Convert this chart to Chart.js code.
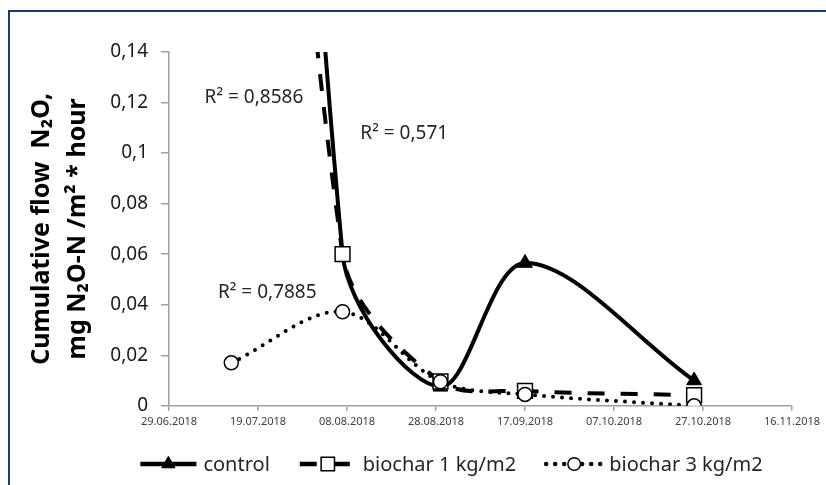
<!DOCTYPE html>
<html>
<head>
<meta charset="utf-8">
<script src="https://cdn.jsdelivr.net/npm/chart.js@4.4.1/dist/chart.umd.min.js"></script>
<style>
  html, body { margin: 0; padding: 0; background: #fff; }
  #wrap { position: relative; width: 826px; height: 485px; overflow: hidden; }
  #frame { position: absolute; left: 8px; top: 10px; width: 900px; height: 600px;
           border-top: 2px solid #1f3b6b; border-left: 2px solid #1f3b6b; }
  canvas { position: absolute; left: 0; top: 0; }
</style>
</head>
<body>
<div id="wrap">
  <div id="frame"></div>
  <canvas id="myChart" width="826" height="485"></canvas>
</div>
<script>
// sampling dates (first control / biochar 1 values lie far above the axis and are clipped)
const dates = ['13.07.2018', '07.08.2018', '29.08.2018', '17.09.2018', '25.10.2018'];
const control = [0.9, 0.06, 0.0075, 0.0565, 0.0100];
const biochar1 = [0.6, 0.06, 0.0096, 0.0059, 0.0042];
const biochar3 = [0.017, 0.0372, 0.0095, 0.0045, 0];

const xFrom = '29.06.2018';
const xTo = '16.11.2018';
const xStepDays = 20;
const yMax = 0.14;
const yStep = 0.02;

// trendline R² labels, anchored in data space (date, value at text baseline)
const r2Labels = [
    { text: 'R² = 0,8586', date: '07.07.2018', value: 0.1198 },
    { text: 'R² = 0,571', date: '11.08.2018', value: 0.1057 },
    { text: 'R² = 0,7885', date: '10.07.2018', value: 0.0427 },
];

const FONT = '"Noto Sans", "Open Sans", sans-serif';
const DAY = 86400000;

function toTime(s) {
    const [d, m, y] = s.split('.').map(Number);
    return Date.UTC(y, m - 1, d);
}
function fmtDate(v) {
    const t = new Date(v);
    const p = (n) => String(n).padStart(2, '0');
    return p(t.getUTCDate()) + '.' + p(t.getUTCMonth() + 1) + '.' + t.getUTCFullYear();
}
const points = (vals) => vals.map((v, i) => ({ x: toTime(dates[i]), y: v }));

const r2Plugin = {
    id: 'r2Labels',
    afterDatasetsDraw(chart) {
        const { ctx, scales: { x, y } } = chart;
        ctx.save();
        ctx.font = '19px ' + FONT;
        ctx.fillStyle = '#262626';
        ctx.textBaseline = 'alphabetic';
        r2Labels.forEach(l => {
            ctx.fillText(l.text, x.getPixelForValue(toTime(l.date)), y.getPixelForValue(l.value));
        });
        ctx.restore();
    }
};

// legend with line sample + marker, like the spreadsheet legend
const lineLegend = {
    id: 'lineLegend',
    afterDraw(chart) {
        const { ctx, chartArea } = chart;
        const sampleW = 56, gap = 7, spacing = 30;
        ctx.save();
        ctx.font = '20px ' + FONT;
        const items = chart.data.datasets.map(ds => ({ ds, w: sampleW + gap + ctx.measureText(ds.label).width }));
        const total = items.reduce((s, it) => s + it.w, 0) + spacing * (items.length - 1);
        let x0 = (chartArea.left + chartArea.right) / 2 - 29 - total / 2;
        const yLine = chart.height - 21;
        items.forEach(({ ds, w }) => {
            ctx.strokeStyle = ds.borderColor;
            ctx.lineWidth = ds.borderWidth + 0.5;
            ctx.setLineDash(ds.borderDash || []);
            ctx.lineCap = ds.borderCapStyle || 'butt';
            ctx.beginPath();
            ctx.moveTo(x0, yLine);
            ctx.lineTo(x0 + sampleW, yLine);
            ctx.stroke();
            ctx.setLineDash([]);
            ctx.lineCap = 'butt';
            ctx.fillStyle = ds.pointBackgroundColor;
            ctx.strokeStyle = ds.pointBorderColor;
            ctx.lineWidth = ds.pointBorderWidth;
            Chart.helpers.drawPoint(ctx, {
                pointStyle: ds.pointStyle, radius: ds.pointRadius * 0.9, rotation: 0, borderWidth: ds.pointBorderWidth
            }, x0 + sampleW / 2, yLine);
            ctx.fillStyle = '#262626';
            ctx.textBaseline = 'alphabetic';
            ctx.fillText(ds.label, x0 + sampleW + gap, yLine + 7);
            x0 += w + spacing;
        });
        ctx.restore();
    }
};

const data = {
    datasets: [{
        label: 'control',
        data: points(control),
        borderColor: '#000',
        borderWidth: 4,
        tension: 0.33,
        pointStyle: 'triangle',
        pointRadius: 8.5,
        pointBackgroundColor: '#000',
        pointBorderColor: '#000',
        pointBorderWidth: 1,
        order: 3,
    }, {
        label: 'biochar 1 kg/m2',
        data: points(biochar1),
        borderColor: '#000',
        borderWidth: 4,
        borderDash: [17, 16],
        tension: 0.33,
        pointStyle: 'rect',
        pointRadius: 10.5,
        pointBackgroundColor: '#fff',
        pointBorderColor: '#000',
        pointBorderWidth: 1.5,
        order: 2,
    }, {
        label: 'biochar 3 kg/m2',
        data: points(biochar3),
        borderColor: '#000',
        borderWidth: 4,
        borderDash: [0, 9],
        borderCapStyle: 'round',
        tension: 0.33,
        pointStyle: 'circle',
        pointRadius: 7,
        pointBackgroundColor: '#fff',
        pointBorderColor: '#000',
        pointBorderWidth: 1.5,
        order: 1,
    }]
};

const axisGrey = '#a0a0a0';

const config = {
    type: 'line',
    data: data,
    options: {
        responsive: false,
        animation: false,
        devicePixelRatio: 1,
        layout: { padding: { left: 0, right: 34, top: 52, bottom: 53 } },
        plugins: {
            legend: { display: false },
            tooltip: { enabled: false },
        },
        scales: {
            x: {
                type: 'linear',
                min: toTime(xFrom),
                max: toTime(xTo),
                grid: { drawOnChartArea: false, tickLength: 5, color: axisGrey, lineWidth: 1.5 },
                border: { display: true, color: axisGrey, width: 1.5 },
                ticks: {
                    stepSize: xStepDays * DAY,
                    maxRotation: 0,
                    autoSkip: false,
                    padding: 4,
                    color: '#404040',
                    font: { family: FONT, size: 11 },
                    callback: (v) => fmtDate(v),
                },
            },
            y: {
                min: 0,
                max: yMax,
                afterFit: (scale) => { scale.width = 169; },
                grid: { drawOnChartArea: false, tickLength: 8, color: axisGrey, lineWidth: 1.5 },
                border: { display: true, color: axisGrey, width: 1.5 },
                ticks: {
                    stepSize: yStep,
                    padding: 13,
                    color: '#1a1a1a',
                    font: { family: FONT, size: 19 },
                    callback: (v) => v === 0 ? '0' : String(Math.round(v * 100) / 100).replace('.', ','),
                },
                title: {
                    display: true,
                    text: ['Cumulative flow  N₂O,', 'mg N₂O-N /m² * hour'],
                    color: '#000',
                    font: { family: FONT, size: 25, weight: 'bold', lineHeight: 1.47 },
                    padding: { top: 23, bottom: 0 },
                },
            },
        },
    },
    plugins: [r2Plugin, lineLegend],
};

const myChart = new Chart(document.getElementById('myChart'), config);
</script>
</body>
</html>
